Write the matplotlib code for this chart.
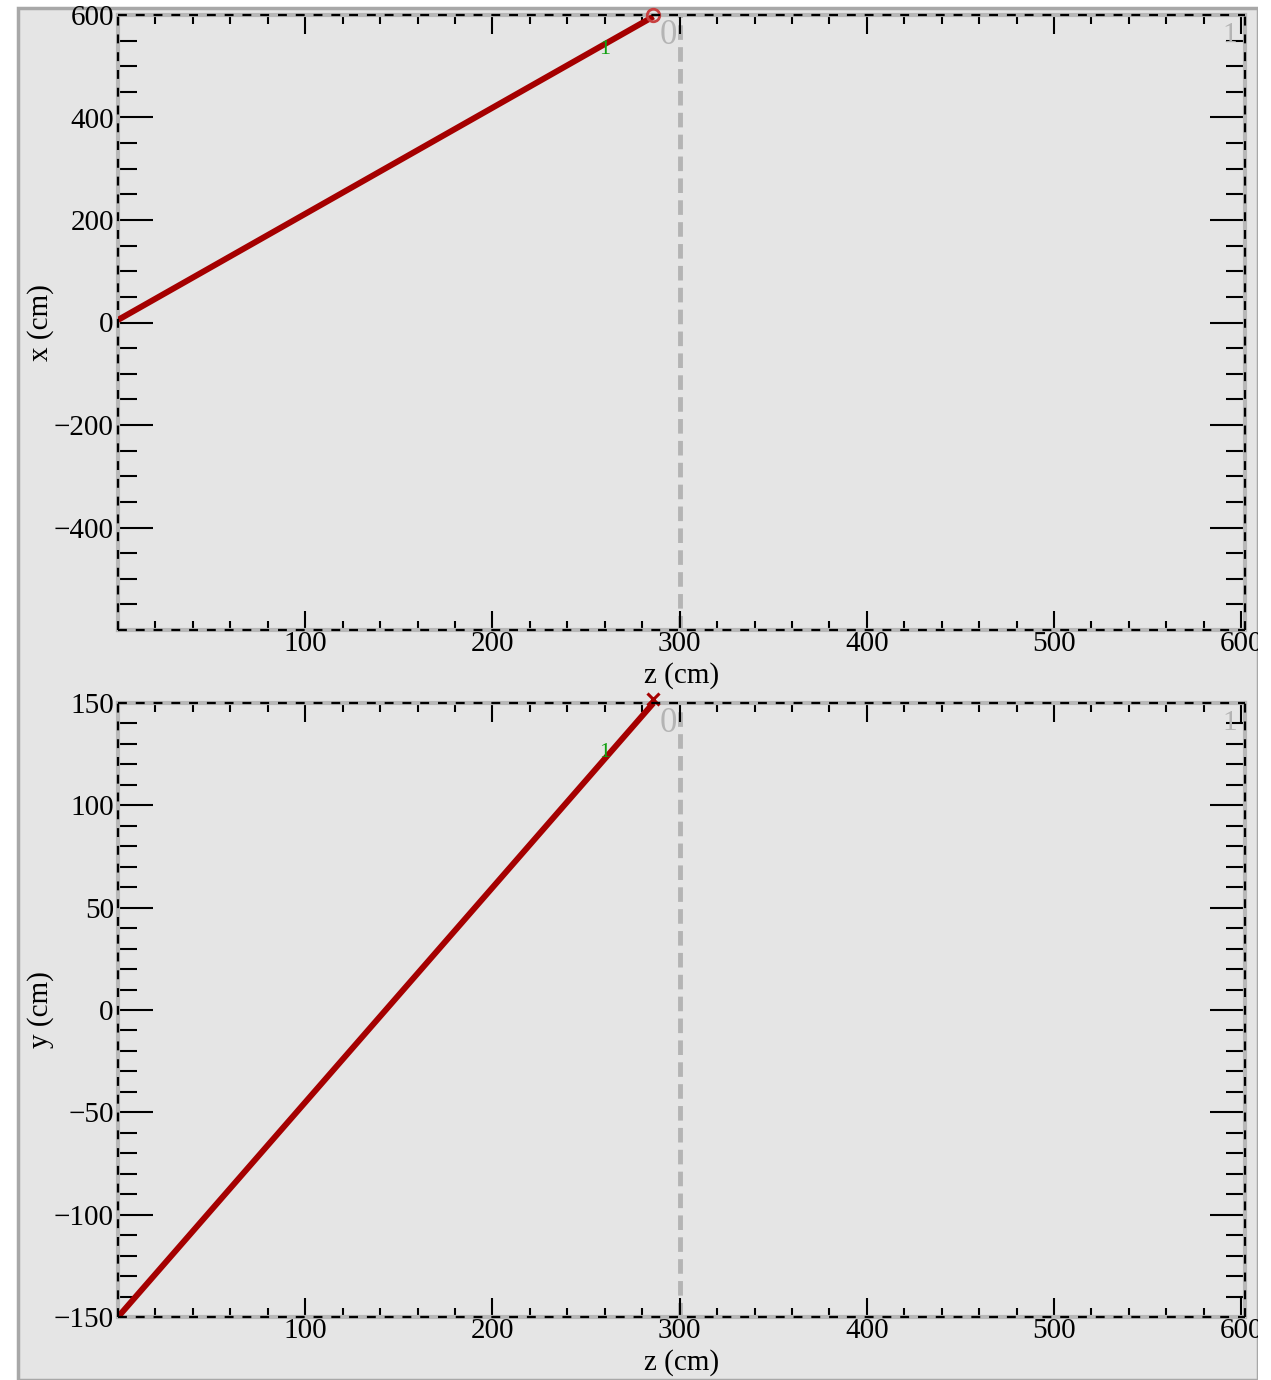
import matplotlib
matplotlib.use('Agg')
import matplotlib.pyplot as plt
from matplotlib.patches import Rectangle
from matplotlib.ticker import MultipleLocator, FixedLocator

plt.rcParams['font.family'] = ['Liberation Serif', 'DejaVu Serif']

# track in the z-x and z-y views (cm)
track_z = [0, 286]
track_x = [5, 597]
track_y = [-150, 150]
# hit marker "1" and end point
hit_z = 260
hit_x = 533
hit_y = 126
end_z = 286
end_x = 600
end_y = 152
# detector plane positions
plane_z = [300]
plane_names = ['0', '1']

xticks_z = [100, 200, 300, 400, 500, 600]
yticks_top = [-400, -200, 0, 200, 400, 600]
yticks_bot = [-150, -100, -50, 0, 50, 100, 150]

W, H = 1271, 1380
fig = plt.figure(figsize=(W / 100, H / 100), dpi=100, facecolor='white')
# grey canvas of the pad
fig.patches.append(Rectangle((18 / W, 0), 1240 / W, 1 - 8 / H, transform=fig.transFigure,
                             facecolor='#e5e5e5', edgecolor='#a8a8a8', linewidth=2.5, zorder=-5))


def setup(ax, yticks, yminor, ylim, ylabel, marker_y):
    ax.set_facecolor('#e5e5e5')
    ax.set_xlim(0, 602)
    ax.set_ylim(*ylim)
    ax.xaxis.set_major_locator(FixedLocator(xticks_z))
    ax.xaxis.set_minor_locator(MultipleLocator(20))
    ax.yaxis.set_major_locator(FixedLocator(yticks))
    ax.yaxis.set_minor_locator(MultipleLocator(yminor))
    ax.set_xticklabels([str(v) for v in xticks_z])
    ax.set_yticklabels([str(v).replace('-', '\u2212') for v in yticks])
    ax.tick_params(axis='both', which='both', direction='in', top=True, right=True,
                   labelsize=21, width=1.5, color='black', pad=3)
    ax.tick_params(axis='x', which='major', length=14)
    ax.tick_params(axis='x', which='minor', length=6.5)
    ax.tick_params(axis='y', which='major', length=25)
    ax.tick_params(axis='y', which='minor', length=13.5)
    ax.tick_params(axis='x', pad=1)
    for s in ax.spines.values():
        s.set_color('#b8b8b8')
        s.set_linewidth(3)
    # dashed black frame on top of the grey one
    for xs, ys in [([0, 1], [0, 0]), ([0, 1], [1, 1]), ([0, 0], [0, 1]), ([1, 1], [0, 1])]:
        ax.plot(xs, ys, transform=ax.transAxes, color='black', lw=1.6,
                ls=(0, (4, 4)), clip_on=False, zorder=5)
    ax.set_xlabel('z (cm)', fontsize=21)
    ax.set_ylabel(ylabel, fontsize=21)
    ax.xaxis.set_label_coords(0.5, -0.052)
    ax.yaxis.set_label_coords(-0.057, 0.5)

    # detector planes
    for z in plane_z:
        ax.axvline(z, color='#b4b4b4', lw=3.5, ls=(0, (3, 1.5)), zorder=1)
    ax.text(294, marker_y, plane_names[0], color='#b4b4b4', fontsize=25,
            ha='center', va='center', zorder=2)
    ax.text(594, marker_y, plane_names[1], color='#b4b4b4', fontsize=21,
            ha='center', va='center', zorder=2)


ax1 = fig.add_axes([118 / W, 1 - 630 / H, 1127 / W, 615 / H])
setup(ax1, yticks_top, 50, (-600, 600), 'x (cm)', 560)
ax1.plot(track_z, track_x, color='#a50000', lw=4.3, solid_capstyle='butt', zorder=3)
ax1.plot([end_z], [end_x], marker='o', ms=9, mfc='none', mec='#c84040', mew=2,
         clip_on=False, zorder=4)
ax1.text(hit_z, hit_x, '1', color='#10a010', fontsize=16, ha='center', va='center', zorder=4)

ax2 = fig.add_axes([118 / W, 1 - 1317 / H, 1127 / W, 614 / H])
setup(ax2, yticks_bot, 10, (-150, 150), 'y (cm)', 140)
ax2.plot(track_z, track_y, color='#a50000', lw=4.3, solid_capstyle='butt', zorder=3)
ax2.plot([end_z], [end_y], marker='x', ms=8, mec='#a50000', mew=2.2,
         clip_on=False, zorder=4)
ax2.text(hit_z, hit_y, '1', color='#10a010', fontsize=16, ha='center', va='center', zorder=4)

# white strip on the right that cuts the last tick label
fig.patches.append(Rectangle((1258 / W, 0), 13 / W, 1, transform=fig.transFigure,
                             facecolor='white', edgecolor='none', zorder=10))

fig.savefig('out.png', dpi=100, facecolor='white')
